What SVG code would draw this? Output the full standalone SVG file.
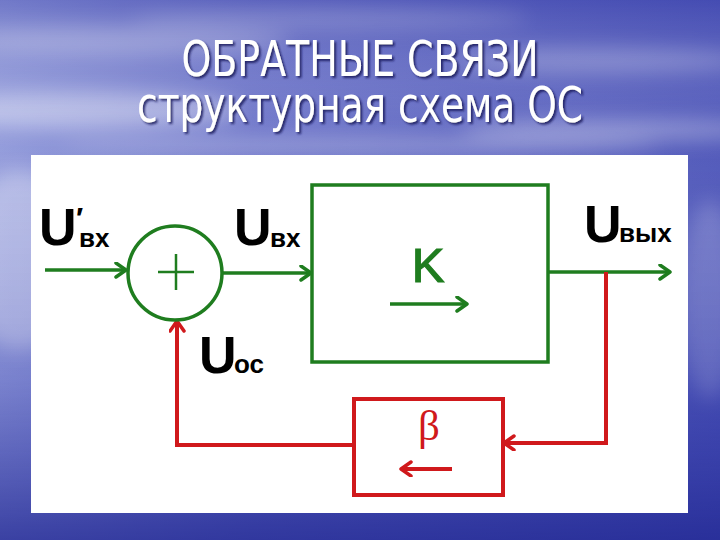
<svg xmlns="http://www.w3.org/2000/svg" width="720" height="540" viewBox="0 0 720 540">
  <defs>
    <linearGradient id="skyH" x1="0" y1="0" x2="1" y2="0">
      <stop offset="0" stop-color="#8f98da"/>
      <stop offset="0.35" stop-color="#6a72c8"/>
      <stop offset="1" stop-color="#4b53b8"/>
    </linearGradient>
    <linearGradient id="skyV" x1="0" y1="0" x2="0" y2="1">
      <stop offset="0" stop-color="#3a40a8" stop-opacity="0.35"/>
      <stop offset="0.25" stop-color="#ffffff" stop-opacity="0.05"/>
      <stop offset="0.7" stop-color="#2a30a0" stop-opacity="0.2"/>
      <stop offset="1" stop-color="#1e2490" stop-opacity="0.75"/>
    </linearGradient>
    <filter id="blur" x="-30%" y="-100%" width="160%" height="300%">
      <feGaussianBlur stdDeviation="10"/>
    </filter>
    <filter id="shadow" x="-5%" y="-20%" width="110%" height="150%">
      <feDropShadow dx="2" dy="2" stdDeviation="1.2" flood-color="#14185a" flood-opacity="0.85"/>
    </filter>
    <marker id="arrG" markerUnits="userSpaceOnUse" markerWidth="20" markerHeight="20" refX="12" refY="8" orient="auto">
      <path d="M2,1 L12,8 L2,15" fill="none" stroke="#1f7d1f" stroke-width="3.5" stroke-linecap="round" stroke-linejoin="round"/>
    </marker>
    <marker id="arrR" markerUnits="userSpaceOnUse" markerWidth="20" markerHeight="20" refX="12" refY="8" orient="auto">
      <path d="M2,1 L12,8 L2,15" fill="none" stroke="#d0191c" stroke-width="3.5" stroke-linecap="round" stroke-linejoin="round"/>
    </marker>
  </defs>
  <style>
    .title { font-family: "DejaVu Sans Condensed", "DejaVu Sans", "Liberation Sans", sans-serif; font-size: 49px; fill: #ffffff; }
    .lab { font-family: "Liberation Sans", Arial, sans-serif; font-weight: bold; fill: #000000; }
    .big { font-size: 52px; }
    .sub { font-size: 26px; }
    .g { stroke: #1f7d1f; stroke-width: 3.5; fill: none; }
    .r { stroke: #d0191c; stroke-width: 4; fill: none; }
    .gt { font-family: "Liberation Sans", Arial, sans-serif; font-size: 49px; fill: #1f7d1f; stroke: #1f7d1f; stroke-width: 1.2; }
    .rt { font-family: "Liberation Serif", "Times New Roman", serif; font-size: 43px; fill: #d0191c; }
  </style>

  <!-- sky background -->
  <rect x="0" y="0" width="720" height="540" fill="url(#skyH)"/>
  <g filter="url(#blur)" fill="#ffffff">
    <ellipse cx="120" cy="40" rx="170" ry="14" opacity="0.35"/>
    <ellipse cx="330" cy="18" rx="200" ry="10" opacity="0.3"/>
    <ellipse cx="600" cy="60" rx="150" ry="12" opacity="0.3"/>
    <ellipse cx="80" cy="110" rx="160" ry="18" opacity="0.4"/>
    <ellipse cx="620" cy="130" rx="160" ry="10" opacity="0.35"/>
    <ellipse cx="360" cy="145" rx="300" ry="8" opacity="0.3"/>
    <ellipse cx="20" cy="260" rx="60" ry="90" opacity="0.35"/>
    <ellipse cx="710" cy="300" rx="30" ry="100" opacity="0.2"/>
  </g>
  <rect x="0" y="0" width="720" height="540" fill="url(#skyV)"/>

  <!-- title -->
  <g id="title" filter="url(#shadow)">
    <text class="title" x="360" y="76" text-anchor="middle" textLength="357" lengthAdjust="spacingAndGlyphs">ОБРАТНЫЕ СВЯЗИ</text>
    <text class="title" x="360" y="122" text-anchor="middle" textLength="446" lengthAdjust="spacingAndGlyphs">структурная схема ОС</text>
  </g>

  <!-- white panel -->
  <rect x="31" y="155" width="657" height="358" fill="#ffffff"/>

  <!-- connectors -->
  <g id="connectors">
    <line class="g" x1="45" y1="270" x2="126" y2="270" marker-end="url(#arrG)"/>
    <line class="g" x1="223" y1="273" x2="311" y2="273" marker-end="url(#arrG)"/>
    <line class="g" x1="548" y1="272" x2="670" y2="272" marker-end="url(#arrG)"/>
    <polyline class="r" points="606,272 606,443 504,443" marker-end="url(#arrR)"/>
    <polyline class="r" points="354,445 177,445 177,321" marker-end="url(#arrR)"/>
  </g>

  <!-- summator -->
  <g id="summator">
    <circle class="g" cx="175" cy="273" r="47"/>
    <line x1="158" y1="272" x2="194" y2="272" stroke="#1f7d1f" stroke-width="2.5"/>
    <line x1="176" y1="254" x2="176" y2="290" stroke="#1f7d1f" stroke-width="2.5"/>
  </g>

  <!-- amplifier K -->
  <g id="amplifier">
    <rect class="g" x="312" y="185" width="236" height="177"/>
    <text class="gt" x="428" y="282" text-anchor="middle">K</text>
    <line class="g" x1="390" y1="304" x2="467" y2="304" marker-end="url(#arrG)"/>
  </g>

  <!-- feedback beta -->
  <g id="feedback">
    <rect class="r" x="354" y="399" width="149" height="96"/>
    <text class="rt" x="429" y="440" text-anchor="middle">β</text>
    <line class="r" x1="452" y1="469" x2="401" y2="469" marker-end="url(#arrR)"/>
  </g>

  <!-- labels -->
  <g id="label-uin-prime">
    <text class="lab big" x="39" y="245">U</text>
    <text class="lab sub"><tspan x="76" y="228" font-size="30">′</tspan><tspan x="79" y="247">вх</tspan></text>
  </g>
  <g id="label-uin">
    <text class="lab big" x="234" y="245">U</text>
    <text class="lab sub" x="270" y="247">вх</text>
  </g>
  <g id="label-uout">
    <text class="lab big" x="584" y="242">U</text>
    <text class="lab sub" x="619" y="242">вых</text>
  </g>
  <g id="label-uoc">
    <text class="lab big" x="199" y="373">U</text>
    <text class="lab sub" x="234" y="373">ос</text>
  </g>
</svg>
